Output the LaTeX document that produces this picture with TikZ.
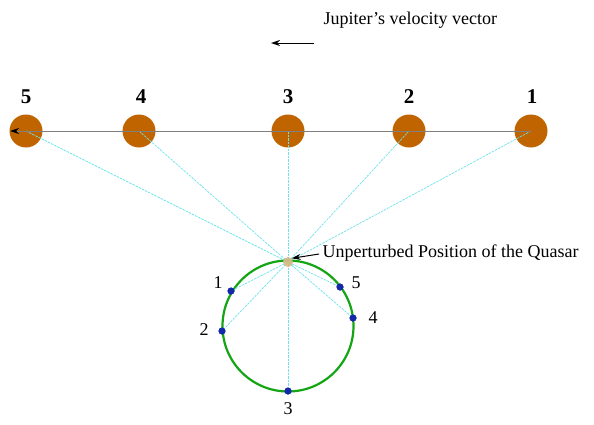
\documentclass[tikz,border=0pt]{standalone}
\usepackage{fontspec}
\setmainfont{Liberation Serif}
\usetikzlibrary{arrows.meta}
\definecolor{jup}{RGB}{192,100,0}
\definecolor{orb}{RGB}{20,165,20}
\definecolor{ray}{RGB}{110,225,235}
\definecolor{qsr}{RGB}{215,185,130}
\definecolor{img}{RGB}{20,40,170}
\tikzset{
  planet/.style={circle,fill=jup,draw=none,minimum size=33pt,inner sep=0pt},
  imgdot/.style={circle,fill=img,draw=none,minimum size=7pt,inner sep=0pt},
  raystyle/.style={ray,dashed,dash pattern=on 2.5pt off 1pt,line width=0.7pt},
  bignum/.style={font=\fontsize{21}{24}\selectfont\bfseries},
  lbl/.style={font=\fontsize{18}{20}\selectfont},
}
\begin{document}
\begin{tikzpicture}[x=1pt,y=-1pt]
\useasboundingbox (0,0) rectangle (594,424);
% planets
\node[planet] (p5) at (26,131) {};
\node[planet] (p4) at (139,131) {};
\node[planet] (p3) at (288,131) {};
\node[planet] (p2) at (409,131) {};
\node[planet] (p1) at (531,131) {};
\node[bignum] at (26,97) {5};
\node[bignum] at (141,97) {4};
\node[bignum] at (288,97) {3};
\node[bignum] at (409,97) {2};
\node[bignum] at (532,97) {1};
% orbit
\node[circle,draw=orb,line width=2.2pt,minimum size=131pt,inner sep=0pt] (orbit) at (288,326) {};
% quasar
\coordinate (q) at (288,262);
% image dots
\node[imgdot] (d1) at (231,291) {};
\node[imgdot] (d2) at (222,331) {};
\node[imgdot] (d3) at (288,391) {};
\node[imgdot] (d4) at (353,318) {};
\node[imgdot] (d5) at (340,287) {};
% rays
\draw[raystyle] (p1.center) -- (q) -- (d1.center);
\draw[raystyle] (p2.center) -- (q) -- (d2.center);
\draw[raystyle] (p3.center) -- (q) -- (d3.center);
\draw[raystyle] (p4.center) -- (q) -- (d4.center);
\draw[raystyle] (p5.center) -- (q) -- (d5.center);
\node[circle,fill=qsr,opacity=0.9,minimum size=10pt,inner sep=0pt] (qd) at (q) {};
% path of Jupiter
\coordinate (pathend) at (10,131);
\draw[black!50,line width=1pt,-{Stealth[length=9pt,width=6pt,black]}] (p1.center) -- (pathend);
% redraw dots above rays
\foreach \d in {d1,d2,d3,d4,d5} \node[imgdot] at (\d) {};
% labels
\node[lbl] at (218,283) {1};
\node[lbl] at (204,330) {2};
\node[lbl] at (288,409) {3};
\node[lbl] at (373,318) {4};
\node[lbl] at (356,283) {5};
% quasar label
\node[lbl,anchor=west] (qlab) at (319,253) {Unperturbed Position of the Quasar};
\draw[line width=1pt,-{Stealth[length=9pt,width=6pt]}] (qlab.west) ++(0,1) -- (qd.north east);
% velocity vector
\node[lbl,anchor=west] (vlab) at (320,20) {Jupiter’s velocity vector};
\coordinate (va) at (314,43);
\coordinate (vb) at (271,43);
\draw[line width=1pt,-{Stealth[length=9pt,width=6pt]}] (va) -- (vb);
\end{tikzpicture}
\end{document}
